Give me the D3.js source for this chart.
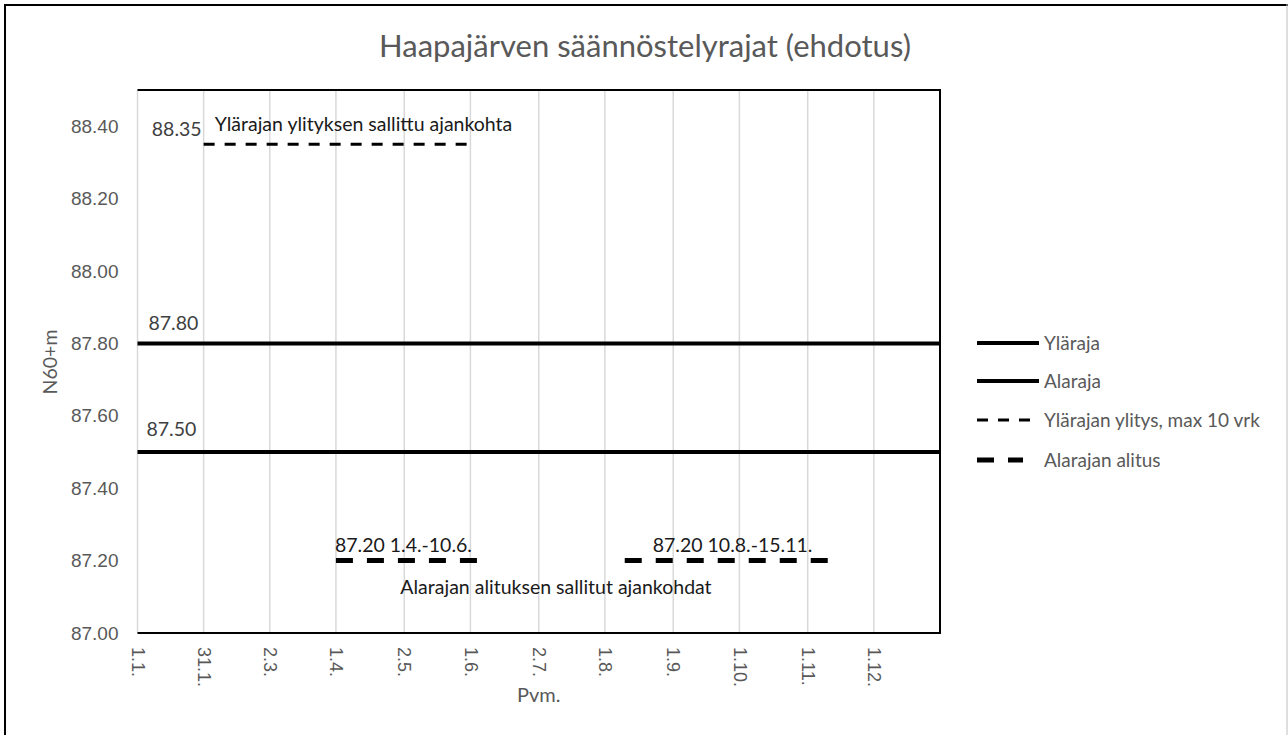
<!DOCTYPE html>
<html>
<head>
<meta charset="utf-8">
<script src="https://cdn.jsdelivr.net/npm/d3@7"></script>
<style>
  body { margin: 0; background: #fff; }
  svg { font-family: Lato, "Noto Sans", sans-serif; }
</style>
</head>
<body>
<div id="chart"></div>
<script>
// data
const xTickLabels = ["1.1.", "31.1.", "2.3.", "1.4.", "2.5.", "1.6.", "2.7.", "1.8.", "1.9.", "1.10.", "1.11.", "1.12."];
const yTicks = [87.0, 87.2, 87.4, 87.6, 87.8, 88.0, 88.2, 88.4];
const seriesNames = ["Yläraja", "Alaraja", "Ylärajan ylitys, max 10 vrk", "Alarajan alitus"];
const ylarajaDates = ["1.1.", "31.12."];
const ylarajaValues = [87.80, 87.80];
const alarajaDates = ["1.1.", "31.12."];
const alarajaValues = [87.50, 87.50];
const ylitysDates = ["31.1.", "1.6."];
const ylitysValues = [88.35, 88.35];
const alitusDates1 = ["1.4.", "10.6."];
const alitusValues1 = [87.20, 87.20];
const alitusDates2 = ["10.8.", "15.11."];
const alitusValues2 = [87.20, 87.20];

const width = 1288, height = 735;
const margin = {top: 90, right: 348, bottom: 102, left: 137.5};

function parseDay(s) {
  const p = s.split(".");
  return new Date(2021, +p[1] - 1, +p[0]);
}
function toPoints(dates, values) {
  return dates.map((d, i) => ({date: parseDay(d), value: values[i]}));
}

const svg = d3.select("#chart").append("svg")
  .attr("width", width)
  .attr("height", height);

// outer frame
svg.append("line").attr("x1", 5).attr("x2", 5).attr("y1", 4).attr("y2", height)
  .attr("stroke", "#000").attr("stroke-width", 2);
svg.append("line").attr("x1", 4).attr("x2", width).attr("y1", 5).attr("y2", 5)
  .attr("stroke", "#000").attr("stroke-width", 2);
svg.append("line").attr("x1", 1287).attr("x2", 1287).attr("y1", 4).attr("y2", height)
  .attr("stroke", "#bfbfbf").attr("stroke-width", 1);

const x = d3.scaleTime()
  .domain([parseDay("1.1."), parseDay("31.12.")])
  .range([margin.left, width - margin.right]);

const y = d3.scaleLinear()
  .domain([87.0, 88.5])
  .range([height - margin.bottom, margin.top]);

const tickDates = xTickLabels.map(parseDay);

// vertical gridlines
svg.append("g")
  .selectAll("line")
  .data(tickDates)
  .enter().append("line")
    .attr("x1", d => x(d)).attr("x2", d => x(d))
    .attr("y1", y(88.5)).attr("y2", y(87.0))
    .attr("stroke", "#d9d9d9")
    .attr("stroke-width", 1.5);

// plot border (top, right, bottom)
svg.append("path")
  .attr("d", `M${x.range()[0]},${y(88.5)}H${x.range()[1]}V${y(87.0)}H${x.range()[0]}`)
  .attr("fill", "none")
  .attr("stroke", "#000")
  .attr("stroke-width", 2);

// axes
const xAxis = svg.append("g")
  .attr("transform", `translate(0,${y(87.0)})`)
  .call(d3.axisBottom(x).tickValues(tickDates).tickSize(0)
    .tickFormat((d, i) => xTickLabels[i]));
xAxis.select(".domain").remove();
xAxis.selectAll("text")
  .attr("transform", "rotate(90)")
  .attr("x", 14)
  .attr("y", 0)
  .attr("dy", "0.35em")
  .attr("text-anchor", "start")
  .attr("fill", "#595959")
  .style("font-size", "18px");

const yAxis = svg.append("g")
  .attr("transform", `translate(${margin.left},0)`)
  .call(d3.axisLeft(y).tickValues(yTicks).tickSize(0).tickFormat(d3.format(".2f")));
yAxis.select(".domain").remove();
yAxis.selectAll("text")
  .attr("x", -19)
  .attr("fill", "#595959")
  .style("font-size", "19px");

// axis titles
svg.append("text")
  .attr("transform", `translate(50,362) rotate(-90)`)
  .attr("dy", "0.35em")
  .attr("text-anchor", "middle")
  .attr("fill", "#595959")
  .style("font-size", "19.5px")
  .text("N60+m");

svg.append("text")
  .attr("x", (x.range()[0] + x.range()[1]) / 2)
  .attr("y", 702)
  .attr("text-anchor", "middle")
  .attr("fill", "#595959")
  .style("font-size", "20px")
  .text("Pvm.");

// title
svg.append("text")
  .attr("x", 645)
  .attr("y", 57)
  .attr("text-anchor", "middle")
  .attr("fill", "#595959")
  .style("font-size", "31px")
  .text("Haapajärven säännöstelyrajat (ehdotus)");

// series
const line = d3.line().x(d => x(d.date)).y(d => y(d.value));
const styles = [
  {w: 4, dash: null},
  {w: 4, dash: null},
  {w: 3, dash: "11,10"},
  {w: 5, dash: "17,14"}
];
const series = [
  {name: seriesNames[0], pts: toPoints(ylarajaDates, ylarajaValues), s: styles[0]},
  {name: seriesNames[1], pts: toPoints(alarajaDates, alarajaValues), s: styles[1]},
  {name: seriesNames[2], pts: toPoints(ylitysDates, ylitysValues), s: styles[2]},
  {name: seriesNames[3], pts: toPoints(alitusDates1, alitusValues1), s: styles[3]},
  {name: seriesNames[3], pts: toPoints(alitusDates2, alitusValues2), s: styles[3]}
];
svg.append("g")
  .selectAll("path")
  .data(series)
  .enter().append("path")
    .attr("d", d => line(d.pts))
    .attr("fill", "none")
    .attr("stroke", "#000")
    .attr("stroke-width", d => d.s.w)
    .attr("stroke-dasharray", d => d.s.dash);

// data labels
const fmt = d3.format(".2f");
const lbl = svg.append("g").style("font-size", "19.5px");
lbl.append("text")
  .attr("x", x(parseDay(ylitysDates[0])) - 2)
  .attr("y", y(ylitysValues[0]) - 8)
  .attr("text-anchor", "end")
  .attr("fill", "#404040")
  .text(fmt(ylitysValues[0]));
lbl.append("text")
  .attr("x", x(parseDay(ylitysDates[0])) + 11)
  .attr("y", y(ylitysValues[0]) - 13)
  .attr("fill", "#1a1a1a")
  .text("Ylärajan ylityksen sallittu ajankohta");
lbl.append("text")
  .attr("x", x(parseDay(ylarajaDates[0])) + 11)
  .attr("y", y(ylarajaValues[0]) - 13)
  .attr("fill", "#404040")
  .text(fmt(ylarajaValues[0]));
lbl.append("text")
  .attr("x", x(parseDay(alarajaDates[0])) + 9)
  .attr("y", y(alarajaValues[0]) - 16)
  .attr("fill", "#404040")
  .text(fmt(alarajaValues[0]));
lbl.append("text")
  .attr("x", x(parseDay(alitusDates1[0])) - 1)
  .attr("y", y(alitusValues1[0]) - 9)
  .attr("fill", "#1a1a1a")
  .text(fmt(alitusValues1[0]) + " " + alitusDates1.join("-"));
lbl.append("text")
  .attr("x", x(parseDay(alitusDates2[0])) + 28)
  .attr("y", y(alitusValues2[0]) - 9)
  .attr("fill", "#1a1a1a")
  .text(fmt(alitusValues2[0]) + " " + alitusDates2.join("-"));
lbl.append("text")
  .attr("x", 556)
  .attr("y", y(alitusValues1[0]) + 33)
  .attr("text-anchor", "middle")
  .attr("fill", "#1a1a1a")
  .text("Alarajan alituksen sallitut ajankohdat");

// legend
const legend = svg.append("g")
  .selectAll("g")
  .data(seriesNames)
  .enter().append("g")
    .attr("transform", (d, i) => `translate(977,${[343, 381, 420, 460][i]})`);
legend.append("line")
  .attr("x1", 0)
  .attr("x2", (d, i) => i === 3 ? 46 : 62)
  .attr("stroke", "#000")
  .attr("stroke-width", (d, i) => styles[i].w)
  .attr("stroke-dasharray", (d, i) => styles[i].dash);
legend.append("text")
  .attr("x", 67)
  .attr("dy", "0.35em")
  .attr("fill", "#595959")
  .style("font-size", "19px")
  .text(d => d);
</script>
</body>
</html>
